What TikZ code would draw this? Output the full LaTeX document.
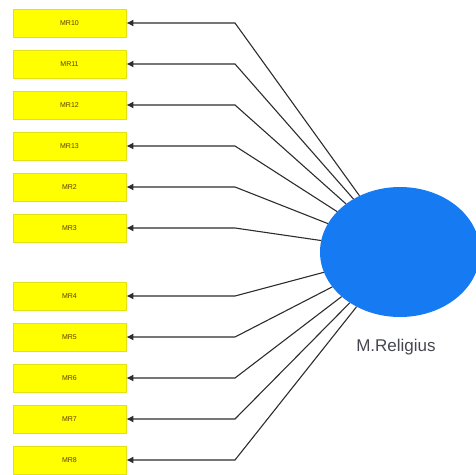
\documentclass[tikz,border=0pt]{standalone}
\usepackage{fontspec}
\setmainfont{Liberation Sans}
\usetikzlibrary{shapes.geometric,arrows.meta}
\definecolor{boxfill}{RGB}{255,255,0}
\definecolor{boxline}{RGB}{225,225,20}
\definecolor{boxtext}{RGB}{100,60,0}
\definecolor{ellfill}{RGB}{22,122,242}
\definecolor{linecol}{RGB}{45,45,45}
\definecolor{labcol}{RGB}{70,70,80}
\tikzset{
  indicator/.style={draw=boxline, fill=boxfill, line width=0.8pt, minimum width=113pt, minimum height=28pt, inner sep=0pt, font=\fontsize{7}{8}\selectfont, text=boxtext},
  latent/.style={ellipse, fill=ellfill, draw=none, minimum width=160pt, minimum height=130pt, inner sep=0pt},
  loading/.style={draw=linecol, line width=1.1pt, -{Latex[length=7pt,width=7pt]}},
  bend/.style={coordinate}
}
\begin{document}
\begin{tikzpicture}[x=1pt,y=-1pt]
\useasboundingbox (0,0) rectangle (476,474);
\node[latent] (mr) at (400,252) {};
\node[font=\fontsize{17}{20}\selectfont, text=labcol] (lab) at (396,347) {M.Religius};
\foreach \n/\t/\y in {a/MR10/23, b/MR11/64, c/MR12/105, d/MR13/146, e/MR2/187, f/MR3/228, g/MR4/296, h/MR5/337, i/MR6/378, j/MR7/419, k/MR8/460}{
  \node[indicator] (\n) at (69.5,\y) {\t};
  \coordinate (p\n) at (235,\y);
  \draw[loading] (mr) -- (p\n) -- (\n.east);
}
\end{tikzpicture}
\end{document}
